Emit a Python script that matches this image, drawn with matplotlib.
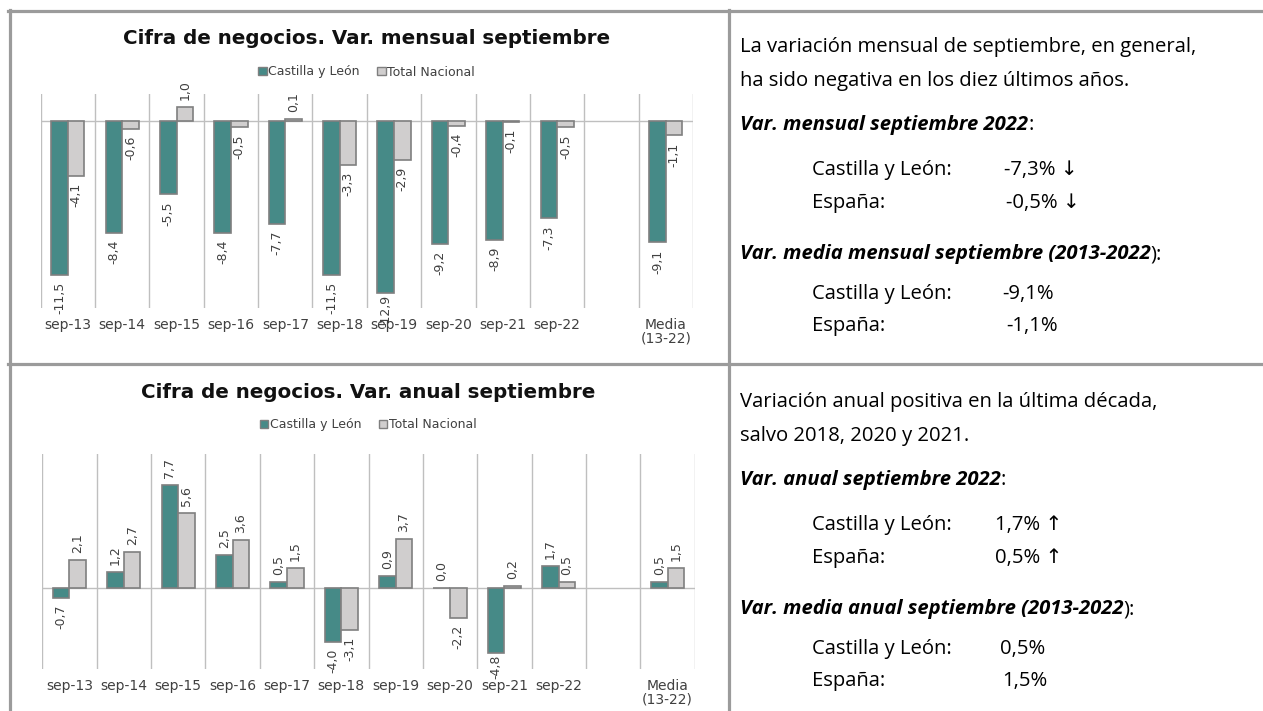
import matplotlib
matplotlib.use('Agg')
import matplotlib.pyplot as plt
from matplotlib.lines import Line2D
from matplotlib.patches import Patch
import numpy as np

# datos
categorias = ['sep-13', 'sep-14', 'sep-15', 'sep-16', 'sep-17', 'sep-18',
              'sep-19', 'sep-20', 'sep-21', 'sep-22', '', 'Media\n(13-22)']
series = ['Castilla y León', 'Total Nacional']
mensual_cyl = [-11.5, -8.4, -5.5, -8.4, -7.7, -11.5, -12.9, -9.2, -8.9, -7.3, None, -9.1]
mensual_nac = [-4.1, -0.6, 1.0, -0.5, 0.1, -3.3, -2.9, -0.4, -0.1, -0.5, None, -1.1]
anual_cyl = [-0.7, 1.2, 7.7, 2.5, 0.5, -4.0, 0.9, 0.0, -4.8, 1.7, None, 0.5]
anual_nac = [2.1, 2.7, 5.6, 3.6, 1.5, -3.1, 3.7, -2.2, 0.2, 0.5, None, 1.5]

titulo_mensual = 'Cifra de negocios. Var. mensual septiembre'
titulo_anual = 'Cifra de negocios. Var. anual septiembre'

TEAL = '#468A87'
GRIS = '#D0CECE'
BORDE = '#7F7F7F'
TXT = '#404040'
REJILLA = '#BFBFBF'
MARCO = '#9B9B9B'
FONT_R = ['Open Sans', 'DejaVu Sans']
FS_R = 14.6

W, H = 1263, 711
fig = plt.figure(figsize=(W / 100, H / 100), dpi=100)


def fy(y):
    return 1 - y / H


def fmt(v):
    return f'{v:.1f}'.replace('.', ',')


def grafico(x0, x1, ytop, ybot, titulo, y_tit, y_leg, cyl, nac, ylim):
    ax = fig.add_axes([x0 / W, fy(ybot), (x1 - x0) / W, (ybot - ytop) / H])
    idx = [i for i, v in enumerate(cyl) if v is not None]
    x = np.array(idx, dtype=float)
    v1 = [cyl[i] for i in idx]
    v2 = [nac[i] for i in idx]
    bw = 0.305
    b1 = ax.bar(x - bw / 2, v1, bw, color=TEAL, edgecolor=BORDE, linewidth=1.2, zorder=2)
    b2 = ax.bar(x + bw / 2, v2, bw, color=GRIS, edgecolor=BORDE, linewidth=1.2, zorder=2)
    rango = ylim[1] - ylim[0]
    for barras, vals in ((b1, v1), (b2, v2)):
        for r, v in zip(barras, vals):
            if v >= 0:
                off, va = 5, 'bottom'
            else:
                # cerca del borde inferior la etiqueta se pega a la barra
                off = -1 if (v - ylim[0]) / rango < 0.1 else -5
                va = 'top'
            ax.annotate(fmt(v), xy=(r.get_x() + r.get_width() / 2, v),
                        xytext=(0, off), textcoords='offset points',
                        rotation=90, ha='center', va=va,
                        fontsize=9, color=TXT, annotation_clip=False)
    ax.set_xlim(-0.5, 11.5)
    ax.set_ylim(ylim)
    ax.set_xticks(range(len(categorias)))
    ax.set_xticklabels(categorias, linespacing=1.0)
    ax.tick_params(axis='x', length=0, pad=7, labelsize=10, labelcolor=TXT)
    ax.set_xticks(np.arange(-0.5, 12, 1), minor=True)
    ax.tick_params(axis='x', which='minor', length=0)
    ax.set_yticks([])
    ax.grid(which='minor', axis='x', color=REJILLA, linewidth=1)
    ax.set_axisbelow(True)
    ax.axhline(0, color=REJILLA, linewidth=1, zorder=1)
    for s in ax.spines.values():
        s.set_visible(False)
    xc = (x0 + x1) / 2 / W
    fig.text(xc, fy(y_tit), titulo, ha='center', va='center', fontsize=14.3,
             fontweight='bold', color='#111111')
    ax.legend(handles=[Patch(facecolor=TEAL, edgecolor=BORDE), Patch(facecolor=GRIS, edgecolor=BORDE)],
              labels=series, loc='center', bbox_to_anchor=(xc, fy(y_leg)),
              bbox_transform=fig.transFigure, ncol=2, frameon=False,
              handlelength=0.65, handleheight=0.65, handletextpad=0.15,
              columnspacing=1.4, fontsize=9, labelcolor=TXT)
    return ax


grafico(40.7, 693, 94, 308, titulo_mensual, 38, 72, mensual_cyl, mensual_nac, (-14, 2))
grafico(42.3, 694.7, 454, 669, titulo_anual, 392, 425, anual_cyl, anual_nac, (-6, 10))

# texto de la derecha
renderer = fig.canvas.get_renderer()


def mixto(x, y, negrita, resto):
    t = fig.text(x / W, fy(y), negrita, fontsize=FS_R, family=FONT_R, fontweight='bold',
                 fontstyle='italic', va='baseline', color='black')
    bb = t.get_window_extent(renderer)
    fig.text(bb.x1 / W, fy(y), resto, fontsize=FS_R, family=FONT_R, va='baseline', color='black')


def linea(x, y, s):
    fig.text(x / W, fy(y), s, fontsize=FS_R, family=FONT_R, va='baseline', color='black')


bloques = [
    (0, ['La variación mensual de septiembre, en general,',
         'ha sido negativa en los diez últimos años.'],
     ('Var. mensual septiembre 2022', ':'),
     [('Castilla y León:', '-7,3% ↓', 1004), ('España:', '-0,5% ↓', 1006)],
     ('Var. media mensual septiembre (2013-2022', '):'),
     [('Castilla y León:', '-9,1%', 1002), ('España:', '-1,1%', 1006)]),
    (355, ['Variación anual positiva en la última década,',
           'salvo 2018, 2020 y 2021.'],
     ('Var. anual septiembre 2022', ':'),
     [('Castilla y León:', '1,7% ↑', 995), ('España:', '0,5% ↑', 995)],
     ('Var. media anual septiembre (2013-2022', '):'),
     [('Castilla y León:', '0,5%', 1000), ('España:', '1,5%', 1002)]),
]

for dy, intro, cab1, filas1, cab2, filas2 in bloques:
    linea(740, dy + 52, intro[0])
    linea(740, dy + 86, intro[1])
    mixto(740, dy + 130, *cab1)
    for k, (etq, val, xv) in enumerate(filas1):
        linea(812, dy + 175 + 33 * k, etq)
        linea(xv, dy + 175 + 33 * k, val)
    mixto(740, dy + 259, *cab2)
    for k, (etq, val, xv) in enumerate(filas2):
        linea(812, dy + 299 + 32 * k, etq)
        linea(xv, dy + 299 + 32 * k, val)

# marco de la tabla
lw = 2.3
fig.add_artist(Line2D([8 / W, 1], [fy(11), fy(11)], color=MARCO, linewidth=lw))
fig.add_artist(Line2D([8 / W, 1], [fy(364.5), fy(364.5)], color=MARCO, linewidth=lw))
fig.add_artist(Line2D([10 / W, 10 / W], [fy(10), 0], color=MARCO, linewidth=lw))
fig.add_artist(Line2D([728.5 / W, 728.5 / W], [fy(10), 0], color=MARCO, linewidth=lw))

fig.savefig('out.png', dpi=100)
